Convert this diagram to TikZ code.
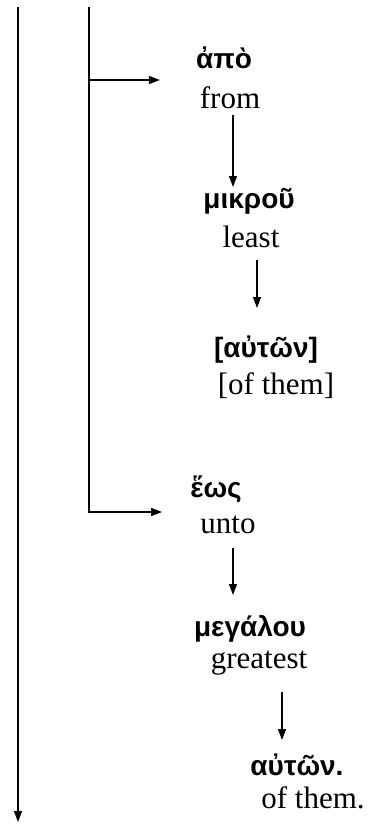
\documentclass[tikz,border=0pt]{standalone}
\usepackage{fontspec}
\setmainfont{Liberation Serif}
\newfontfamily\grk{Liberation Sans}
\usetikzlibrary{arrows.meta}
\begin{document}
\begin{tikzpicture}[x=1pt,y=-1pt,
  line/.style={line width=1.2pt},
  arr/.style={line width=1.2pt,-{Triangle[length=11pt,width=8pt]}},
  gk/.style={anchor=base,inner sep=0pt,font=\grk\bfseries\fontsize{28}{30}\selectfont},
  en/.style={anchor=base,inner sep=0pt,font=\fontsize{31}{36}\selectfont}]
\useasboundingbox (0,0) rectangle (373,825);
% text nodes
\node[gk] (apo) at (224,68) {ἀπὸ};
\node[en] (from) at (230,108) {from};
\node[gk] (mikrou) at (249,208) {μικροῦ};
\node[en] (least) at (251,247) {least};
\node[gk] (auton1) at (266,357) {[αὐτῶν]};
\node[en] (ofthem1) at (276,394) {[of them]};
\node[gk] (heos) at (216,497) {ἕως};
\node[en] (unto) at (228,533) {unto};
\node[gk] (megalou) at (250,636) {μεγάλου};
\node[en] (greatest) at (259,668) {greatest};
\node[gk] (auton2) at (297,775) {αὐτῶν.};
\node[en] (ofthem2) at (313,808) {of them.};
% trunk lines
\coordinate (t1) at (18,7);
\coordinate (b1) at (18,822);
\coordinate (t2) at (89,7);
\coordinate (j1) at (89,80);
\draw[arr] (t1) -- (b1);
\draw[arr] (t2) |- ([shift={(-28,15)}]heos.base west);
\draw[arr] (j1) -- ([shift={(-36,12)}]apo.base west);
% vertical arrows
\coordinate (s1) at ([shift={(3,7)}]from.base);
\coordinate (e1) at ([shift={(0,-21)}]mikrou.base);
\coordinate (s2) at ([shift={(6,13)}]least.base);
\coordinate (e2) at ([shift={(0,-49)}]auton1.base);
\coordinate (s3) at ([shift={(5,15)}]unto.base);
\coordinate (e3) at ([shift={(0,-41)}]megalou.base);
\coordinate (s4) at ([shift={(23,24)}]greatest.base);
\coordinate (e4) at ([shift={(0,-35)}]auton2.base);
\draw[arr] (s1) -- (s1 |- e1);
\draw[arr] (s2) -- (s2 |- e2);
\draw[arr] (s3) -- (s3 |- e3);
\draw[arr] (s4) -- (s4 |- e4);
\end{tikzpicture}
\end{document}
